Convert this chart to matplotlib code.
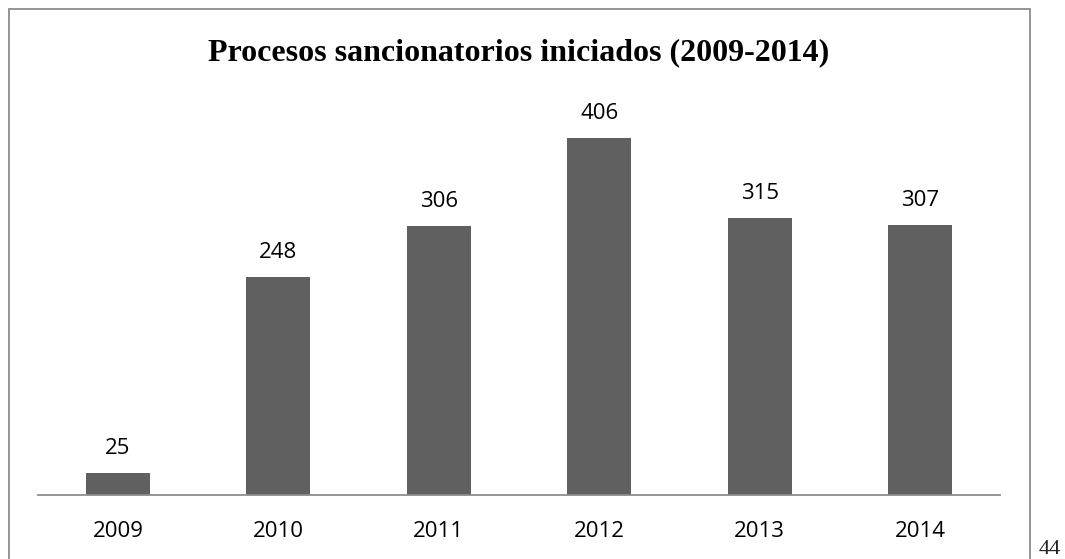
import matplotlib.pyplot as plt
from matplotlib.patches import Rectangle

# datos
anios = ['2009', '2010', '2011', '2012', '2013', '2014']
procesos = [25, 248, 306, 406, 315, 307]

titulo = 'Procesos sancionatorios iniciados (2009-2014)'

fig = plt.figure(figsize=(10.65, 5.59), dpi=100)
W, H = 1065, 559

# marco exterior
marco = Rectangle((8.5 / W, -0.02), (1030 - 8.5) / W, (559 - 9) / H + 0.02,
                  transform=fig.transFigure, fill=False, edgecolor='#8c8c8c', lw=1.3)
fig.patches.append(marco)

ax = fig.add_axes([37.8 / W, (H - 495) / H, (1000.2 - 37.8) / W, 400 / H])
x = range(len(anios))
barras = ax.bar(x, procesos, width=0.4, color='#606060')
ax.set_xlim(-0.5, len(anios) - 0.5)
ax.set_ylim(0, 455)

for spine in ['top', 'right', 'left']:
    ax.spines[spine].set_visible(False)
ax.spines['bottom'].set_color('#8c8c8c')
ax.spines['bottom'].set_linewidth(1.3)
ax.set_yticks([])
ax.set_xticks(list(x))
ax.set_xticklabels(anios, family='Open Sans', fontsize=16)
ax.tick_params(axis='x', length=0, pad=18.5)

for b, v in zip(barras, procesos):
    ax.annotate(str(v), (b.get_x() + b.get_width() / 2, v), xytext=(0, 14),
                textcoords='offset points', ha='center', va='baseline',
                family='Open Sans', fontsize=16)

fig.text(519 / W, 1 - 53 / H, titulo, ha='center', va='center',
         family='Liberation Serif', fontweight='bold', fontsize=23)

# numero de pagina
fig.text(1049.5 / W, 1 - 550 / H, '44', ha='center', va='center',
         family='Liberation Serif', fontsize=16, color='#222222')

fig.savefig('out.png', dpi=100)
